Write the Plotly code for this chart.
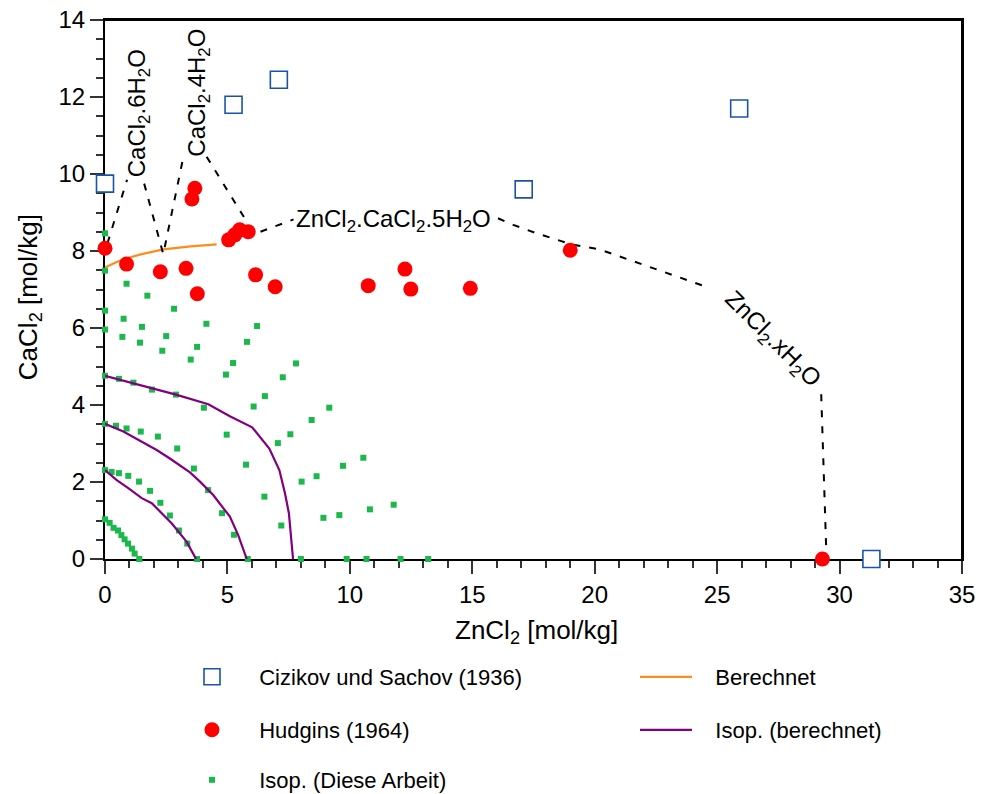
import plotly.graph_objects as go

# ---------------- data ----------------
ciz_x = [0.0, 5.25, 7.1, 17.1, 25.9, 31.3]
ciz_y = [9.75, 11.8, 12.45, 9.6, 11.7, 0.0]

hud_x = [0.0, 0.88, 2.26, 3.31, 3.77, 3.67, 3.55, 5.05, 5.3, 5.5, 5.85,
         6.15, 6.95, 10.75, 12.25, 12.49, 14.92, 19.0, 29.3]
hud_y = [8.07, 7.66, 7.46, 7.55, 6.89, 9.63, 9.35, 8.29, 8.42, 8.55, 8.5,
         7.38, 7.07, 7.10, 7.53, 7.01, 7.03, 8.02, 0.0]

ber_x = [0.0, 0.5, 1.0, 1.5, 2.38, 3.0, 3.5, 4.56]
ber_y = [7.57, 7.72, 7.83, 7.92, 8.04, 8.09, 8.12, 8.17]

isoA_x = [0.0, 1.16, 2.9, 4.22, 5.1, 6.01, 6.71, 7.12, 7.35, 7.51, 7.62, 7.68]
isoA_y = [4.76, 4.56, 4.27, 4.02, 3.71, 3.42, 2.87, 2.31, 1.71, 1.19, 0.49, 0.0]
isoB_x = [0.0, 0.75, 2.11, 2.65, 3.47, 3.88, 4.42, 5.1, 5.44, 5.79]
isoB_y = [3.51, 3.31, 2.83, 2.61, 2.25, 2.01, 1.66, 1.10, 0.62, 0.0]
isoC_x = [0.0, 0.48, 0.95, 1.5, 1.91, 2.72, 3.33, 3.72]
isoC_y = [2.31, 2.05, 1.84, 1.58, 1.45, 0.93, 0.45, 0.0]

dies_x = [0, 0, 0.88, 1.73, 2.82, 0, 0.76, 1.51, 4.14, 6.21, 0, 0.71, 1.43, 2.5,
          2.34, 3.76, 3.5, 5.8, 5.23, 4.94, 7.8, 7.26, 6.53, 6.07, 9.16, 8.44,
          7.57, 7.06, 5.76, 4.97, 4.04, 2.9, 1.92, 1.16, 0.57, 0, 0, 0.45, 0.88,
          1.46, 2.16, 2.95, 3.63, 4.21, 4.78, 5.27, 5.83, 0, 0.27, 0.57, 0.95,
          1.39, 1.84, 2.26, 2.65, 3.02, 3.36, 3.76, 0, 0.19, 0.35, 0.53, 0.67,
          0.8, 0.94, 1.1, 1.21, 1.4, 8.0, 6.51, 7.2, 8.03, 8.64, 8.92, 9.57,
          10.55, 9.72, 10.82, 11.79, 9.87, 10.68, 12.07, 13.2]
dies_y = [8.46, 7.49, 7.15, 6.84, 6.50, 6.45, 6.24, 6.03, 6.11, 6.05, 5.96, 5.77,
          5.62, 5.79, 5.41, 5.51, 5.18, 5.64, 5.09, 4.79, 5.08, 4.72, 4.23, 3.96,
          3.93, 3.61, 3.24, 3.01, 2.45, 3.23, 3.93, 4.27, 4.40, 4.58, 4.68, 4.76,
          3.51, 3.46, 3.39, 3.31, 3.18, 2.87, 2.35, 1.79, 1.19, 0.63, 0, 2.31,
          2.26, 2.23, 2.16, 2.01, 1.77, 1.46, 1.13, 0.74, 0.40, 0, 1.03, 0.94,
          0.81, 0.74, 0.62, 0.51, 0.40, 0.27, 0.14, 0, 0, 1.62, 0.87, 2.01, 2.15,
          1.07, 1.14, 2.63, 2.42, 1.29, 1.41, 0, 0, 0, 0]

# phase boundaries (dashed), gaps where labels sit
bnd_x = [0.1, 0.9, None, 1.6, 2.38, 3.17, None, 4.15, 5.85, None,
         6.35, 7.7, None, 16.05, 16.67, 17.63, 18.39, 19.0, 20.2, 24.6, None,
         29.25, 29.45]
bnd_y = [8.2, 9.85, None, 9.75, 7.92, 10.35, None, 10.45, 8.7, None,
         8.5, 8.82, None, 8.85, 8.68, 8.46, 8.30, 8.18, 8.04, 7.06, None,
         4.28, 0.35]

labels = ["CaCl<sub>2</sub>.6H<sub>2</sub>O", "CaCl<sub>2</sub>.4H<sub>2</sub>O",
          "ZnCl<sub>2</sub>.CaCl<sub>2</sub>.5H<sub>2</sub>O", "ZnCl<sub>2</sub>.xH<sub>2</sub>O"]
label_x = [1.35, 3.82, 11.8, 27.24]
label_y = [11.58, 12.1, 8.8, 5.69]
label_ang = [-90, -90, 0, 45]

x_ticks = [0, 5, 10, 15, 20, 25, 30, 35]
y_ticks = [0, 2, 4, 6, 8, 10, 12, 14]

x_title = "ZnCl<sub>2</sub> [mol/kg]"
y_title = "CaCl<sub>2</sub> [mol/kg]"

# ---------------- figure ----------------
FONT = "Liberation Sans, Arial, sans-serif"
NB = "\u00a0"
fig = go.Figure()

def join(*segs):
    xs, ys = [], []
    for i, (sx, sy) in enumerate(segs):
        if i:
            xs.append(None); ys.append(None)
        xs += sx; ys += sy
    return xs, ys

fig.add_trace(go.Scatter(x=dies_x, y=dies_y, mode="markers", name=NB * 2 + "Isop. (Diese Arbeit)",
                         marker=dict(symbol="square", size=6, color="#1BB84B"),
                         cliponaxis=False, legend="legend5"))
px, py = join((isoA_x, isoA_y), (isoB_x, isoB_y), (isoC_x, isoC_y))
fig.add_trace(go.Scatter(x=px, y=py, mode="lines", name=NB * 3 + "Isop. (berechnet)",
                         line=dict(color="#800080", width=2.2), legend="legend4"))
fig.add_trace(go.Scatter(x=ber_x, y=ber_y, mode="lines", name=NB * 3 + "Berechnet",
                         line=dict(color="#FF8C1A", width=2.2), legend="legend2"))
fig.add_trace(go.Scatter(x=bnd_x, y=bnd_y, mode="lines", showlegend=False,
                         line=dict(color="black", width=2, dash="7px,9px"), hoverinfo="skip"))
fig.add_trace(go.Scatter(x=hud_x, y=hud_y, mode="markers", name=NB * 2 + "Hudgins (1964)",
                         marker=dict(symbol="circle", size=15, color="#FF0000"),
                         cliponaxis=False, legend="legend3"))
fig.add_trace(go.Scatter(x=ciz_x, y=ciz_y, mode="markers", name=NB * 2 + "Cizikov und Sachov (1936)",
                         marker=dict(symbol="square", size=17, color="white",
                                     line=dict(color="#1A55A5", width=1.6)),
                         cliponaxis=False, legend="legend"))

for t, x, y, a in zip(labels, label_x, label_y, label_ang):
    fig.add_annotation(x=x, y=y, text=t, textangle=a, showarrow=False,
                       xanchor="center", yanchor="middle",
                       font=dict(family=FONT, size=24, color="black"))

# axis titles
fig.add_annotation(xref="paper", yref="paper", x=0.504, y=-0.134, text=x_title, showarrow=False,
                   xanchor="center", yanchor="middle", font=dict(family=FONT, size=26, color="black"))
fig.add_annotation(xref="paper", yref="paper", x=-0.088, y=0.485, text=y_title, showarrow=False,
                   textangle=-90, xanchor="center", yanchor="middle",
                   font=dict(family=FONT, size=26, color="black"))

axis_common = dict(showline=True, linecolor="black", linewidth=2, mirror=True,
                   ticks="outside", ticklen=13, tickwidth=1.5, tickcolor="#333",
                   showgrid=False, zeroline=False, layer="below traces", automargin=False,
                   ticklabeloverflow="allow",
                   tickfont=dict(family=FONT, size=24, color="black"))

fig.update_xaxes(range=[0, 35], tickvals=x_ticks, ticktext=[str(v) for v in x_ticks],
                 minor=dict(dtick=1, tick0=0, ticks="outside", ticklen=7, tickwidth=1.5, tickcolor="#333"),
                 **axis_common)
fig.update_yaxes(range=[0, 14], tickvals=y_ticks, ticktext=[str(v) for v in y_ticks],
                 minor=dict(dtick=0.5, tick0=0, ticks="outside", ticklen=7, tickwidth=1.5, tickcolor="#333"),
                 **axis_common)

# top and right edges of the frame, drawn explicitly
fig.add_shape(type="line", xref="paper", yref="paper", x0=0, x1=1, y0=1, y1=1,
              line=dict(color="black", width=2), layer="above")
fig.add_shape(type="line", xref="paper", yref="paper", x0=1, x1=1, y0=0, y1=1,
              line=dict(color="black", width=2), layer="above")

def leg(x_px, y_px, iw):
    return dict(x=(x_px - 105) / 857, y=(559 - y_px) / 539, xanchor="left", yanchor="middle",
                bgcolor="rgba(0,0,0,0)", borderwidth=0, itemwidth=iw,
                font=dict(family=FONT, size=22, color="black"))

fig.update_layout(
    width=982, height=794,
    margin=dict(l=105, r=20, t=20, b=235, autoexpand=False),
    paper_bgcolor="white", plot_bgcolor="white",
    font=dict(family=FONT, color="black"),
    legend=leg(177, 677, 60),
    legend2=leg(635, 677, 52),
    legend3=leg(177, 730, 60),
    legend4=leg(635, 730, 52),
    legend5=leg(177, 780, 60),
)

# remove the default 8px page margin so the figure fills the window exactly
fig.write_html("out.html", config={"displayModeBar": False},
               post_script="document.body.style.margin='0';")
